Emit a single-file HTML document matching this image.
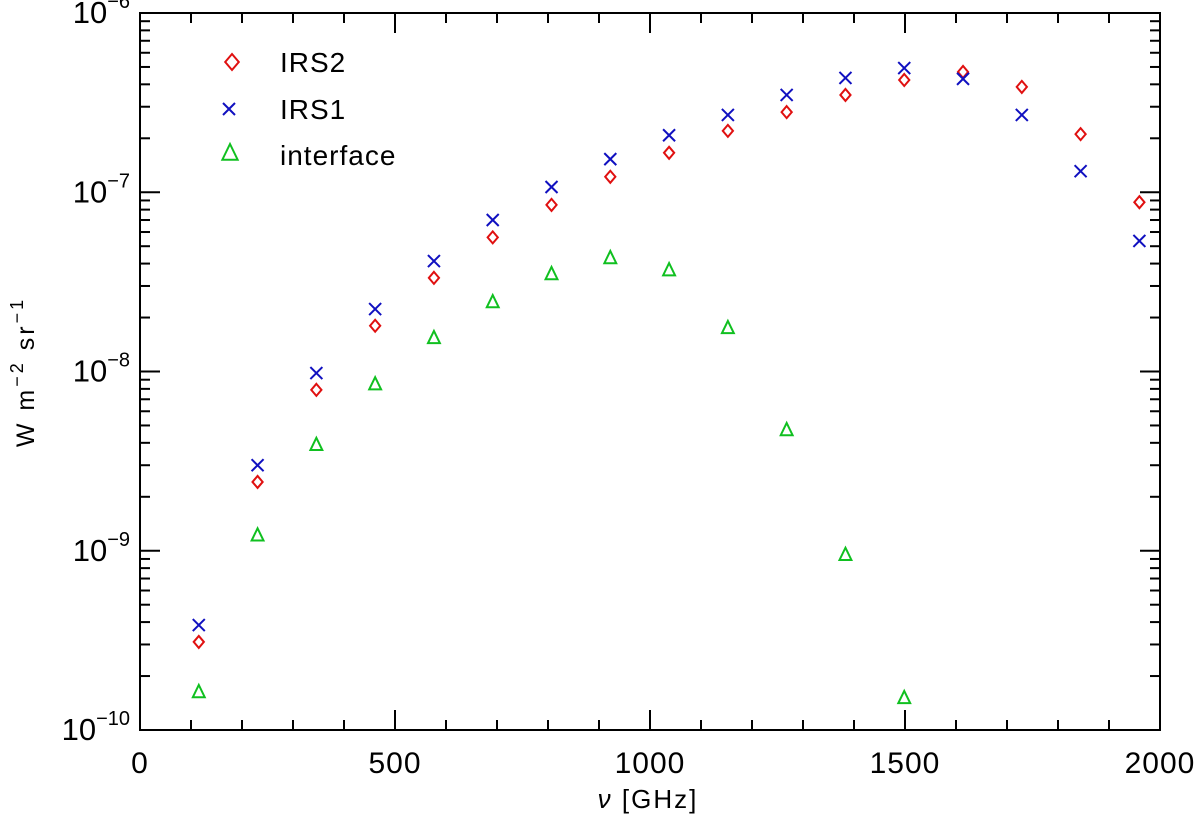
<!DOCTYPE html>
<html><head><meta charset="utf-8"><style>
body{margin:0;background:#fff}
svg{display:block;font-family:"Liberation Sans",sans-serif}
</style></head><body>
<svg id="c" width="1200" height="818"></svg>
<script>
const categoriesJ=[1,2,3,4,5,6,7,8,9,10,11,12,13,14,15,16,17];
const freqGHz=categoriesJ.map(j=>115.27*j);
const irs2=[3.1e-10,2.42e-9,7.9e-9,1.8e-8,3.33e-8,5.6e-8,8.5e-8,1.22e-7,1.66e-7,2.2e-7,2.8e-7,3.49e-7,4.23e-7,4.69e-7,3.87e-7,2.11e-7,8.8e-8];
const irs1=[3.85e-10,3.0e-9,9.8e-9,2.23e-8,4.13e-8,7.0e-8,1.07e-7,1.53e-7,2.08e-7,2.7e-7,3.49e-7,4.34e-7,4.93e-7,4.29e-7,2.7e-7,1.31e-7,5.35e-8];
const iface=[1.63e-10,1.22e-9,3.9e-9,8.5e-9,1.54e-8,2.44e-8,3.5e-8,4.3e-8,3.68e-8,1.75e-8,4.72e-9,9.5e-10,1.51e-10];
const xTicks=[0,500,1000,1500,2000];
const yExps=[-10,-9,-8,-7,-6];

const L=140,R=1160,T=13,B=730;
const X=v=>L+(v/2000)*(R-L);
const Y=v=>T+(-6-Math.log10(v))*(B-T)/4;
const s=document.getElementById('c');const NS='http://www.w3.org/2000/svg';
function el(t,a,p){const e=document.createElementNS(NS,t);for(const k in a)e.setAttribute(k,a[k]);(p||s).appendChild(e);return e;}
const frame=el('rect',{x:L,y:T,width:R-L,height:B-T,fill:'none',stroke:'#000','stroke-width':2});


const ax=el('g',{stroke:'#000','stroke-width':2});


for(let v=0;v<=2000;v+=100){const x=X(v),len=v%500==0?20:10;
 el('line',{x1:x,y1:B,x2:x,y2:B-len},ax);el('line',{x1:x,y1:T,x2:x,y2:T+len},ax);}
for(let e=-10;e<-6;e++)for(let m=1;m<10;m++){const y=Y(m*Math.pow(10,e)),len=m==1?20:10;
 el('line',{x1:L,y1:y,x2:L+len,y2:y},ax);el('line',{x1:R,y1:y,x2:R-len,y2:y},ax);}
xTicks.forEach(v=>{const t=el('text',{x:X(v),y:B+43,'font-size':30,'text-anchor':'middle','letter-spacing':1});t.textContent=v;
 
 });
yExps.forEach(e=>{const t=el('text',{x:L-10,y:Y(Math.pow(10,e))+10,'font-size':31,'text-anchor':'end'});
 t.innerHTML='10<tspan dy="-15" font-size="20">−'+(-e)+'</tspan>';
 
 });
const xt=el('text',{x:648,y:808,'font-size':26,'text-anchor':'middle','letter-spacing':2});
xt.innerHTML='<tspan font-style="italic">ν</tspan>  [GHz]';


const yt=el('text',{transform:'translate(34,372) rotate(-90)','font-size':25,'text-anchor':'middle','letter-spacing':3});
yt.innerHTML='W  m<tspan dy="-11" font-size="18">−2</tspan><tspan dy="11">  sr</tspan><tspan dy="-11" font-size="18">−1</tspan>';


function diamond(x,y,g,r){el('path',{d:`M${x} ${y-r}L${x+r*0.85} ${y}L${x} ${y+r}L${x-r*0.85} ${y}Z`,fill:'none',stroke:'#e01010','stroke-width':2},g);}
function cross(x,y,g,r){el('path',{d:`M${x-r} ${y-r}L${x+r} ${y+r}M${x-r} ${y+r}L${x+r} ${y-r}`,stroke:'#1010c0','stroke-width':2},g);}
function tri(x,y,g,r){el('path',{d:`M${x} ${y-r}L${x+r*0.85} ${y+r*0.75}L${x-r*0.85} ${y+r*0.75}Z`,fill:'none',stroke:'#10c020','stroke-width':2},g);}
const g2=el('g',{});
irs2.forEach((v,i)=>diamond(X(freqGHz[i]),Y(v),g2,6));
const g1=el('g',{});
irs1.forEach((v,i)=>cross(X(freqGHz[i]),Y(v),g1,6));
const g3=el('g',{});
iface.forEach((v,i)=>tri(X(freqGHz[i]),Y(v),g3,7));
const lg=el('g',{});
diamond(232,62,lg,8);cross(229,109,lg,6);tri(230,153,lg,9);
[['IRS2',62],['IRS1',109],['interface',155]].forEach(([n,y])=>{const t=el('text',{x:280,y:y+10,'font-size':28,'letter-spacing':1},lg);t.textContent=n;
 
 });
</script>
</body></html>
